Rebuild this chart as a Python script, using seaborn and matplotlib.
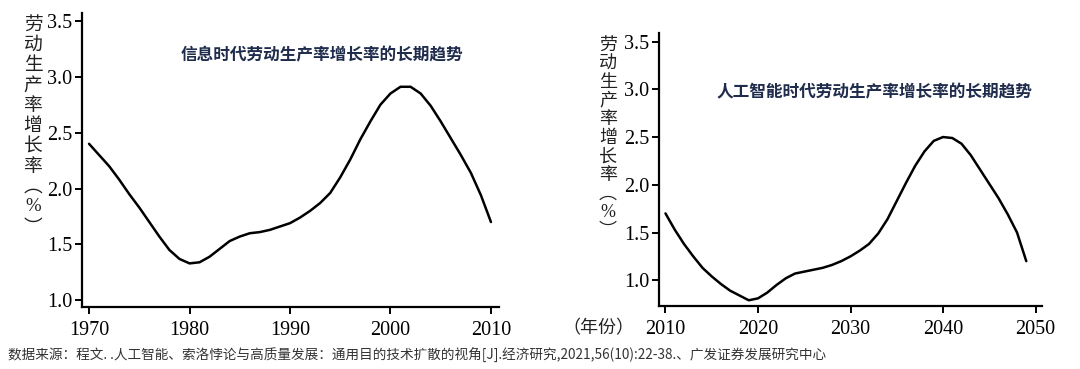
import matplotlib
matplotlib.use("Agg")
import matplotlib.pyplot as plt
import seaborn as sns
import pandas as pd

# data
info_years = list(range(1970, 2011))
info_growth = [2.40, 2.30, 2.20, 2.08, 1.95, 1.83, 1.70, 1.57, 1.45, 1.37,
               1.33, 1.34, 1.39, 1.46, 1.53, 1.57, 1.60, 1.61, 1.63, 1.66,
               1.69, 1.74, 1.80, 1.87, 1.96, 2.10, 2.26, 2.44, 2.60, 2.75,
               2.85, 2.91, 2.91, 2.85, 2.74, 2.60, 2.45, 2.30, 2.14, 1.94,
               1.70]

ai_years = list(range(2010, 2050))
ai_growth = [1.70, 1.53, 1.38, 1.25, 1.13, 1.04, 0.96, 0.89, 0.84, 0.79,
             0.81, 0.87, 0.95, 1.02, 1.07, 1.09, 1.11, 1.13, 1.16, 1.20,
             1.25, 1.31, 1.38, 1.49, 1.64, 1.83, 2.02, 2.20, 2.35, 2.46,
             2.50, 2.49, 2.43, 2.31, 2.16, 2.01, 1.86, 1.69, 1.50, 1.20]

y_ticks = [1.0, 1.5, 2.0, 2.5, 3.0, 3.5]
info_xticks = [1970, 1980, 1990, 2000, 2010]
ai_xticks = [2010, 2020, 2030, 2040, 2050]

info_title = "信息时代劳动生产率增长率的长期趋势"
ai_title = "人工智能时代劳动生产率增长率的长期趋势"
ylabel_chars = ["劳", "动", "生", "产", "率", "增", "长", "率", "︵", "%", "︶"]
year_label = "（年份）"
source = ("数据来源：程文. .人工智能、索洛悖论与高质量发展：通用目的技术扩散的视角[J].经济研究,"
          "2021,56(10):22-38.、广发证券发展研究中心")

sns.set_style("ticks")
plt.rcParams['font.family'] = ['Liberation Serif', 'Noto Sans CJK SC', 'DejaVu Sans']
cjk = ['Noto Sans CJK SC', 'DejaVu Sans']

fig = plt.figure(figsize=(10.8, 3.69), dpi=100)
W, H = 1080, 369


def make_axes(x0, x1, ytop, ybot):
    return fig.add_axes([x0 / W, 1 - ybot / H, (x1 - x0) / W, (ybot - ytop) / H])


def style_axes(ax, xlim, ylim, xticks):
    ax.set_xlim(*xlim)
    ax.set_ylim(*ylim)
    ax.set_xticks(xticks)
    ax.set_yticks(y_ticks)
    ax.set_yticklabels([f"{v:.1f}" for v in y_ticks])
    ax.set_xlabel("")
    ax.set_ylabel("")
    sns.despine(ax=ax)
    for s in ["left", "bottom"]:
        ax.spines[s].set_linewidth(1.6)
        ax.spines[s].set_color("black")
    ax.tick_params(axis="both", direction="out", length=5, width=1.4,
                   labelsize=14.5, colors="black", pad=2)
    ax.tick_params(axis="x", pad=5)


ax1 = make_axes(82, 499, 13, 307)
sns.lineplot(x=info_years, y=info_growth, ax=ax1, color="black", linewidth=1.8)
style_axes(ax1, (1969.3, 2010.8), (0.94, 3.57), info_xticks)

ax2 = make_axes(659, 1042, 33, 306)
sns.lineplot(x=ai_years, y=ai_growth, ax=ax2, color="black", linewidth=1.8)
style_axes(ax2, (2009.3, 2050.7), (0.73, 3.59), ai_xticks)

fig.text(322 / W, 1 - 55 / H, info_title, ha="center", va="center",
         fontsize=12, fontweight="bold", color="#1f2c4c", family=cjk)
fig.text(874 / W, 1 - 92 / H, ai_title, ha="center", va="center",
         fontsize=12, fontweight="bold", color="#1f2c4c", family=cjk)


def vertical_label(xc, ytop, step, size):
    for i, ch in enumerate(ylabel_chars):
        fam = ['Liberation Serif'] if ch == "%" else cjk
        fig.text(xc / W, 1 - (ytop + i * step) / H, ch, ha="center", va="center",
                 fontsize=size, color="#222222", family=fam)


vertical_label(33, 24, 20.3, 13.5)
vertical_label(608, 45, 18.6, 13)

fig.text(598 / W, 1 - 328 / H, year_label, ha="center", va="center",
         fontsize=13, color="#222222", family=cjk)

fig.text(8 / W, 1 - 355 / H, source, ha="left", va="center",
         fontsize=9.8, color="#333333", family=cjk)

fig.savefig("out.png", dpi=100)
